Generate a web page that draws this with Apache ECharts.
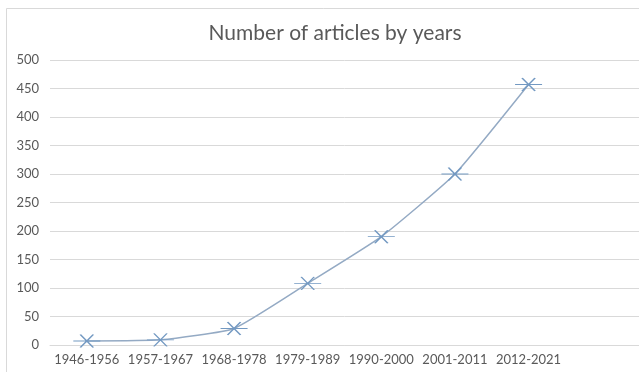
<!DOCTYPE html>
<html>
<head>
<meta charset="utf-8">
<script src="https://cdn.jsdelivr.net/npm/echarts@6/dist/echarts.min.js"></script>
<style>
html,body{margin:0;padding:0;background:#fff;}
#chart{width:639px;height:372px;}
</style>
</head>
<body>
<div id="chart"></div>
<script>
const categories = ['1946-1956','1957-1967','1968-1978','1979-1989','1990-2000','2001-2011','2012-2021',''];
const articles = [7, 9, 29, 108, 190, 300, 457, null];
const yTicks = {min: 0, max: 500, interval: 50};
const titleText = 'Number of articles by years';

const chart = echarts.init(document.getElementById('chart'), null, {renderer: 'canvas'});
const font = 'Lato, "Open Sans", sans-serif';
chart.setOption({
  animation: false,
  backgroundColor: '#fff',
  title: {
    text: titleText,
    left: 330,
    textAlign: 'center',
    top: 18,
    textStyle: {fontFamily: font, fontSize: 21, fontWeight: 'normal', color: '#595959'}
  },
  graphic: [{
    type: 'rect',
    shape: {x: 6.5, y: 8.5, width: 660, height: 400},
    style: {fill: 'none', stroke: '#d9d9d9', lineWidth: 1},
    silent: true
  }],
  grid: {left: 50, right: -4, top: 60, bottom: 27, containLabel: false},
  xAxis: {
    type: 'category',
    data: categories,
    boundaryGap: true,
    axisLine: {show: true, lineStyle: {color: '#d9d9d9', width: 1}},
    axisTick: {show: false},
    axisLabel: {fontFamily: font, fontSize: 13, color: '#595959', margin: 8, interval: 0}
  },
  yAxis: {
    type: 'value',
    min: yTicks.min, max: yTicks.max, interval: yTicks.interval,
    axisLine: {show: false},
    axisTick: {show: false},
    splitLine: {lineStyle: {color: '#d9d9d9', width: 1}},
    axisLabel: {fontFamily: font, fontSize: 13, color: '#595959', margin: 11}
  },
  series: [{
    type: 'line',
    data: articles,
    smooth: 0.15,
    lineStyle: {color: '#94aac4', width: 1.5},
    symbol: 'path://M7,0L20,13M20,0L7,13M0,6.5L27,6.5',
    symbolSize: [27, 13],
    showAllSymbol: true,
    itemStyle: {color: 'none', borderColor: '#7399c2', borderWidth: 1.2}
  }]
});
</script>
</body>
</html>
